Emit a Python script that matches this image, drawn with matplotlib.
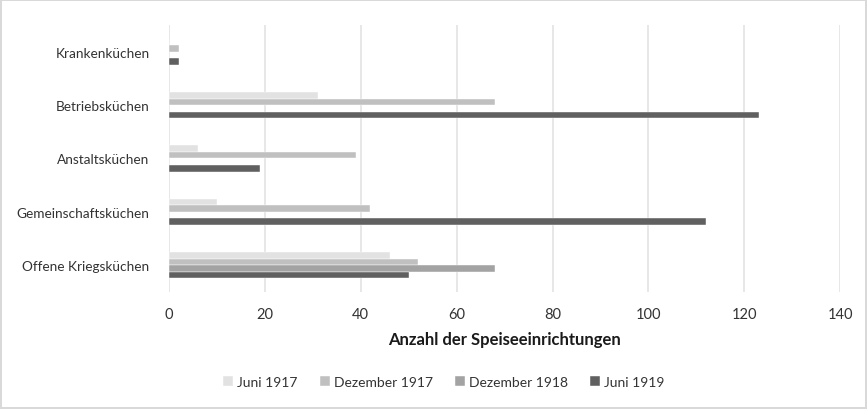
import matplotlib.pyplot as plt
import numpy as np

plt.rcParams['font.family'] = ['Lato', 'DejaVu Sans']

# Data
categories = ["Offene Kriegsküchen", "Gemeinschaftsküchen", "Anstaltsküchen",
              "Betriebsküchen", "Krankenküchen"]
series = ["Juni 1917", "Dezember 1917", "Dezember 1918", "Juni 1919"]
juni_1917 = [46, 10, 6, 31, 0]
dez_1917 = [52, 42, 39, 68, 2]
dez_1918 = [68, 0, 0, 0, 0]
juni_1919 = [50, 112, 19, 123, 2]
values = [juni_1917, dez_1917, dez_1918, juni_1919]
colors = ["#e2e2e2", "#c0c0c0", "#a3a3a3", "#606060"]

fig = plt.figure(figsize=(8.67, 4.10), dpi=100)
fig.patch.set_edgecolor("#d9d9d9")
fig.patch.set_linewidth(1.5)
ax = fig.add_axes([0.195, 0.285, 0.774, 0.652])

y = np.arange(len(categories))
h = 0.122
for i, (name, vals, c) in enumerate(zip(series, values, colors)):
    ax.barh(y + (1.5 - i) * h, vals, height=h, color=c, label=name,
            edgecolor="white", linewidth=0.3, zorder=3)

ax.set_xlim(0, 140)
ax.set_ylim(-0.5, len(categories) - 0.5)
ax.set_xticks(np.arange(0, 141, 20))
ax.set_yticks(y)
ax.set_yticklabels(categories)
ax.grid(axis="x", color="#e3e3e3", linewidth=1.2, zorder=0)
for s in ax.spines.values():
    s.set_visible(False)
ax.tick_params(length=0, labelcolor="#333333")
ax.tick_params(axis="x", labelsize=10.5, pad=11)
ax.tick_params(axis="y", labelsize=9.8, pad=14)
ax.set_xlabel("Anzahl der Speiseeinrichtungen", fontsize=12, fontweight="bold",
              color="#1a1a1a", labelpad=7)

fig.legend(loc="center", bbox_to_anchor=(0.512, 0.066), ncol=4, frameon=False,
           fontsize=10, labelcolor="#333333", handlelength=0.7, handleheight=0.7,
           handletextpad=0.3, columnspacing=1.6)

fig.savefig("out.png", dpi=100)
